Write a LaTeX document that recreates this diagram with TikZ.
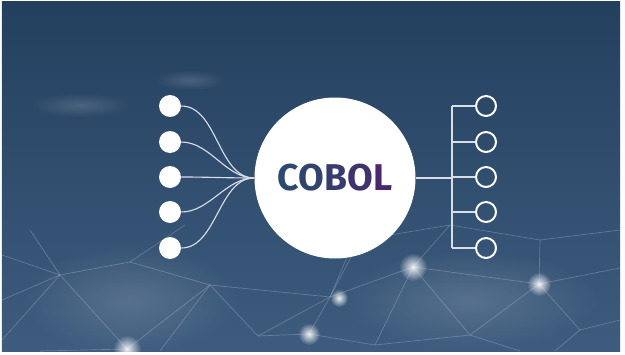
\documentclass[tikz,border=0pt]{standalone}
\usepackage{fontspec}
\newfontfamily\logofont{Fira Sans}
\usetikzlibrary{fadings}
\definecolor{bgtop}{HTML}{24405F}
\definecolor{bgbot}{HTML}{3D5C7E}
\definecolor{wire}{HTML}{D8DEE6}
\definecolor{cA}{HTML}{2A4A70}
\definecolor{cB}{HTML}{30446F}
\definecolor{cC}{HTML}{383B70}
\definecolor{cD}{HTML}{40326E}
\definecolor{cE}{HTML}{4A286E}
\tikzfading[name=softfade,inner color=transparent!0,outer color=transparent!100]
\tikzset{
  dot/.style={circle,fill=white,minimum size=22\pxu,inner sep=0pt},
  ring/.style={circle,draw=white,line width=1.4pt,minimum size=20\pxu,inner sep=0pt},
  net/.style={white,opacity=0.22,line width=0.5pt},
  glow/.style={white,path fading=softfade,opacity=0.9},
  haze/.style={white,path fading=softfade,opacity=0.15}
}
\newcommand\pxu{*0.025cm}
\begin{document}
\begin{tikzpicture}[x=0.025cm,y=-0.025cm]
	\useasboundingbox (0,0) rectangle (625,355);
	\fill[white] (0,0) rectangle (625,355);
	\shade[top color=bgtop,bottom color=bgbot] (2,2) rectangle (620,351);
	% background network
	\begin{scope}
	\clip (2,2) rectangle (620,351);
	\fill[haze] (80,105) ellipse (50 and 12);
	\fill[haze] (190,80) ellipse (35 and 10);
	\fill[haze] (130,300) ellipse (110 and 55);
	\fill[haze] (470,300) ellipse (130 and 50);
	\draw[net] (2,300)--(60,275)--(130,262)--(210,285)--(258,336)--(330,297)--(413,267)--(539,284)--(620,268);
	\draw[net] (2,340)--(60,275)--(30,230) (60,275)--(127,349)--(210,285)--(330,297)--(309,334)--(258,336);
	\draw[net] (130,262)--(185,225) (413,267)--(450,225)--(540,240)--(539,284)--(580,330)--(620,320);
	\draw[net] (330,297)--(350,250) (413,267)--(375,345) (539,284)--(470,335)--(413,267);
	\draw[net] (470,335)--(520,351) (309,334)--(375,345)--(470,335) (127,349)--(40,351) (2,255)--(60,275);
	\draw[net] (210,285)--(160,351) (580,330)--(555,351) (450,225)--(360,240)--(330,297) (540,240)--(620,230);
	\fill[glow] (413,267) circle (14);
	\fill[glow] (539,284) circle (12);
	\fill[glow] (339,298) circle (9);
	\fill[glow] (309,334) circle (11);
	\fill[glow] (127,349) circle (14);
	\end{scope}
	% main diagram
	\node[circle,fill=white,minimum size=161\pxu,inner sep=0pt] (cobol) at (335,178)
		{\logofont\bfseries\fontsize{26.5}{26.5}\selectfont\textcolor{cA}{C}\textcolor{cB}{O}\textcolor{cC}{B}\textcolor{cD}{O}\textcolor{cE}{L}};
	\foreach \i/\y in {1/106,2/142,3/177,4/212,5/248}{
		\node[dot] (in\i) at (170,\y) {};
		\node[ring] (out\i) at (486,\y) {};
		\draw[wire,line width=0.8pt] (in\i.east) to[out=0,in=180,looseness=0.9] (cobol.west);
	}
	\coordinate (bus) at (452,178);
	\draw[wire,line width=1pt] (cobol.east)--(bus);
	\draw[wire,line width=1pt] (out1.west -| bus)--(out5.west -| bus);
	\foreach \i in {1,...,5}
		\draw[wire,line width=1pt] (out\i.west -| bus)--(out\i.west);
\end{tikzpicture}
\end{document}
